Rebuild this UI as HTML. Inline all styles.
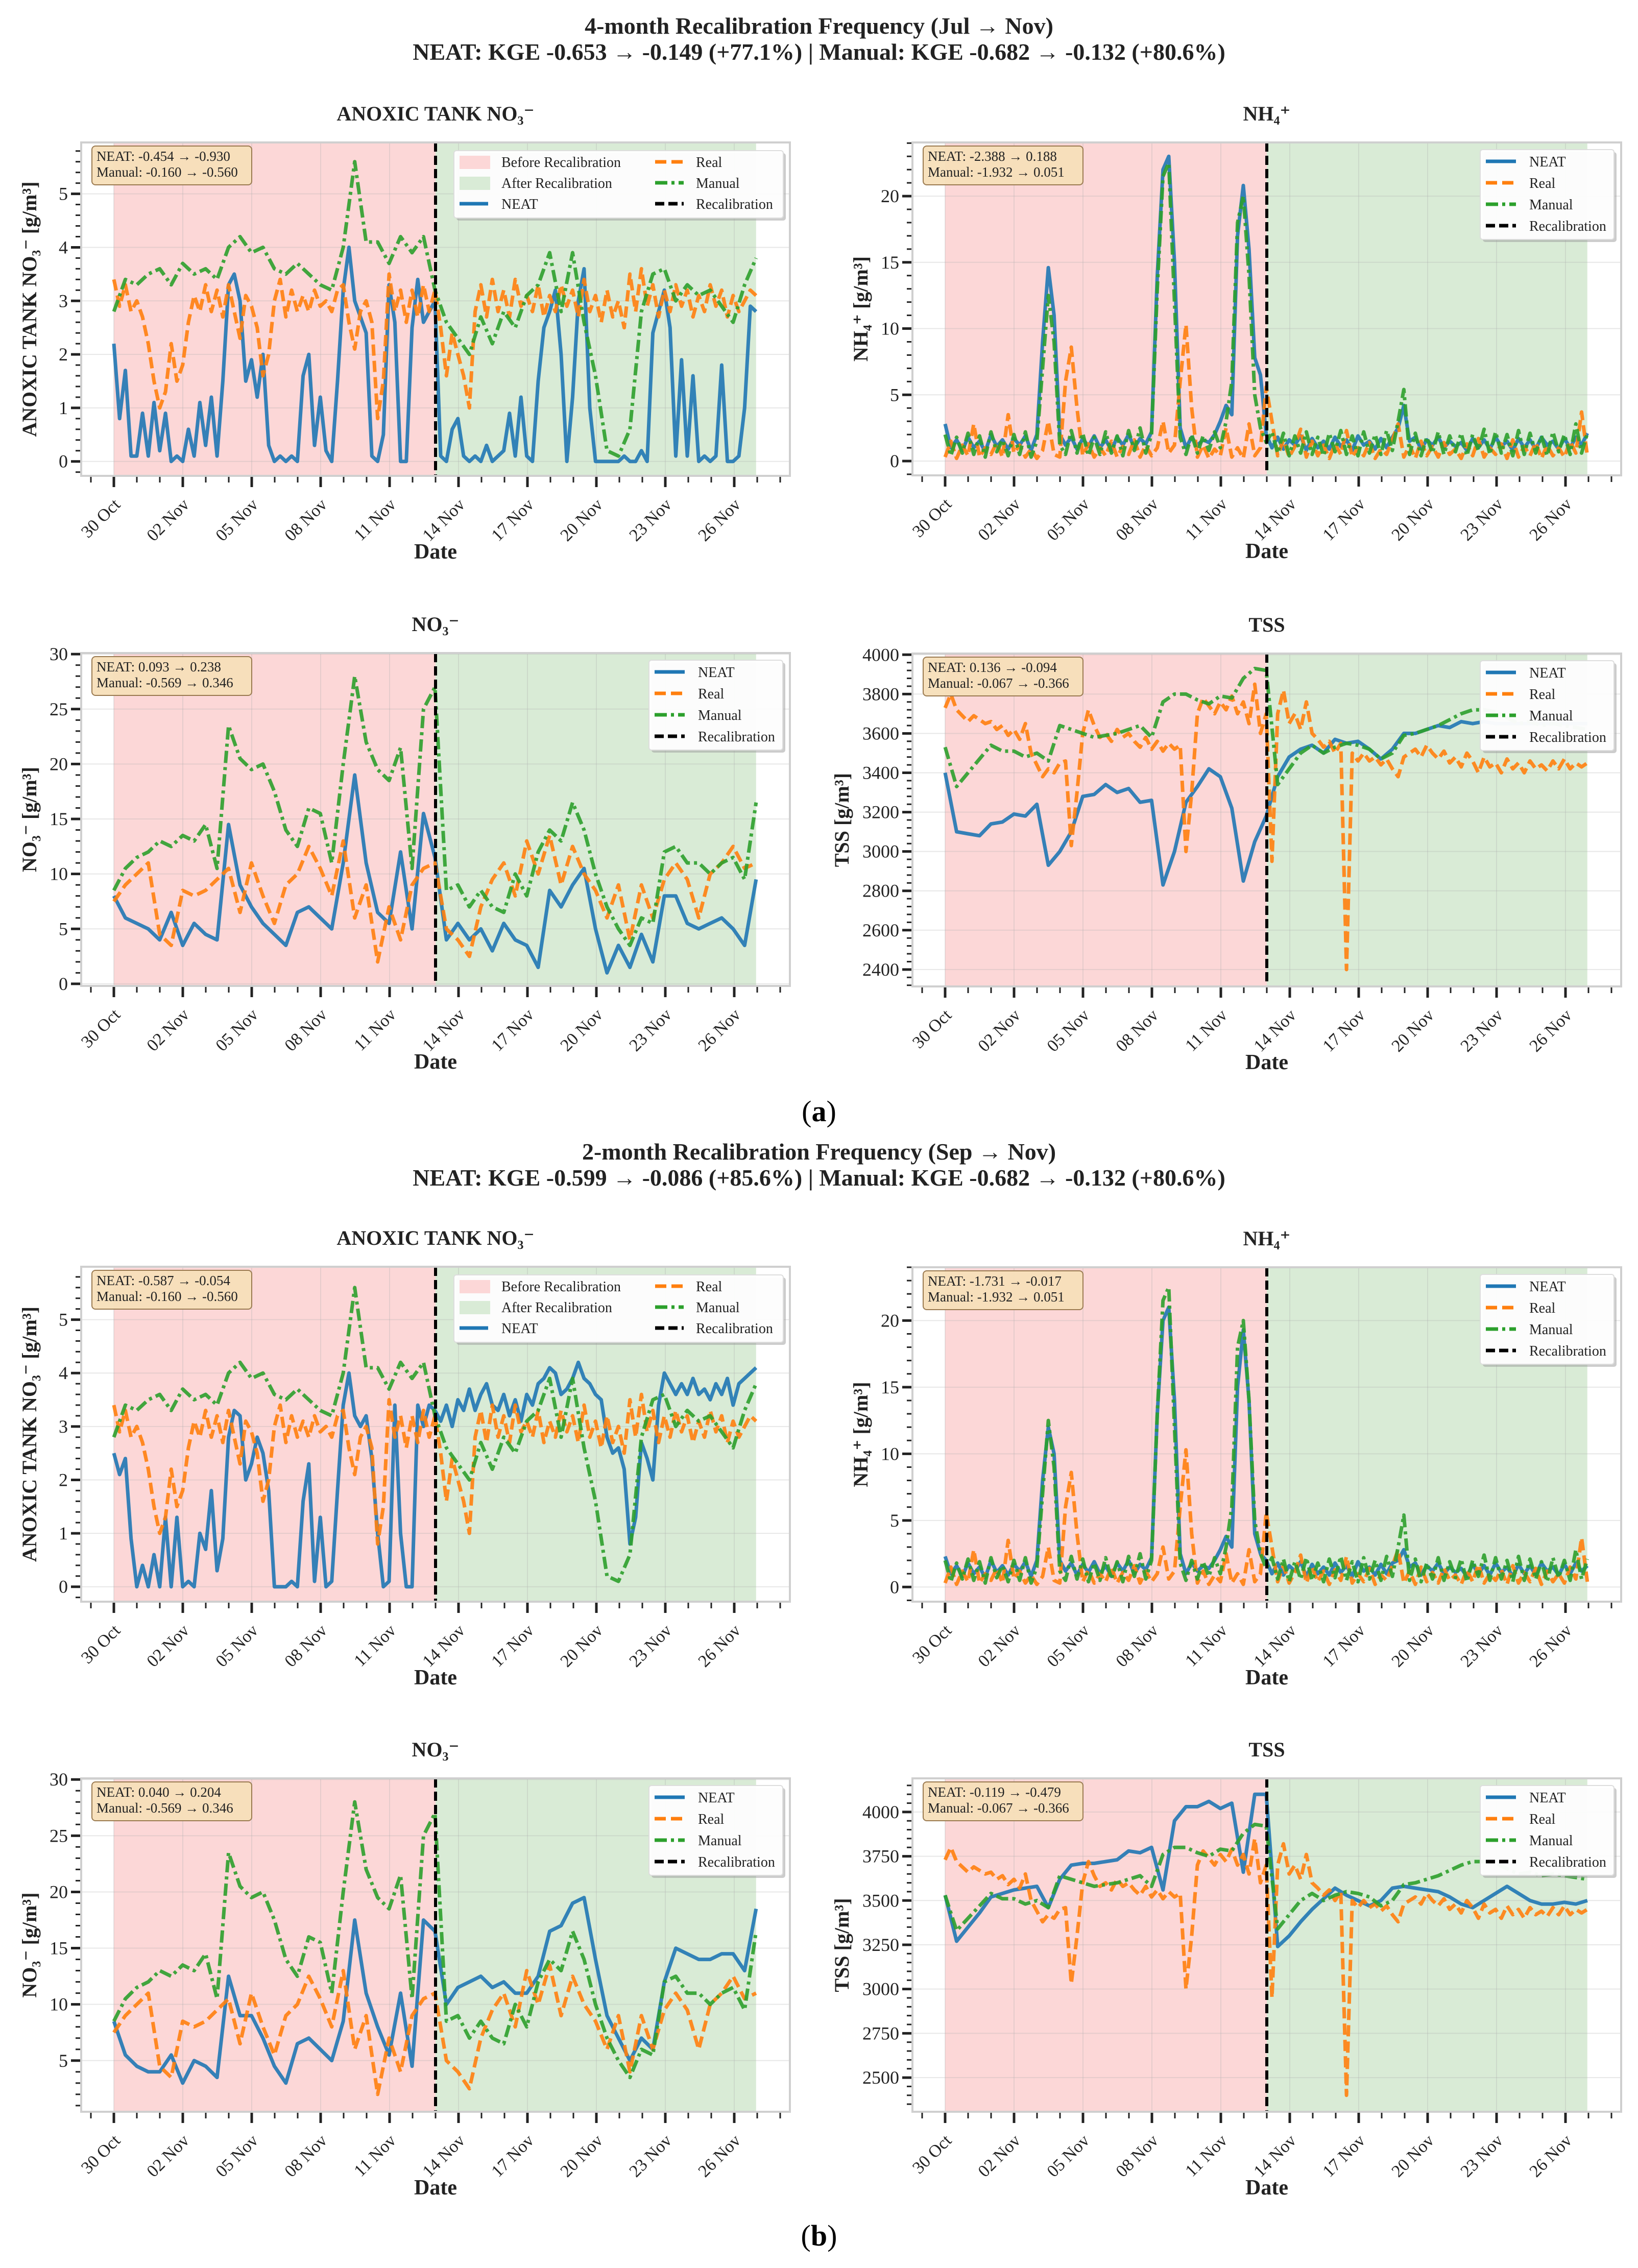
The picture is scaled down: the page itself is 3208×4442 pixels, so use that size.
<!DOCTYPE html>
<html><head><meta charset="utf-8"><title>Recalibration Frequency</title>
<style>
html,body{margin:0;padding:0;background:#fff;}
svg{display:block;font-family:"Liberation Serif","DejaVu Serif",serif;}
</style></head>
<body>
<svg id="fig" width="3208" height="4442" viewBox="0 0 3208 4442" xmlns="http://www.w3.org/2000/svg">
<rect x="0" y="0" width="3208" height="4442" fill="#fff"/>
<text x="1604" y="66" text-anchor="middle" font-size="46" font-weight="bold" fill="#222">4-month Recalibration Frequency (Jul → Nov)</text>
<text x="1604" y="117" text-anchor="middle" font-size="46" font-weight="bold" fill="#222">NEAT: KGE -0.653 → -0.149 (+77.1%)  |  Manual: KGE -0.682 → -0.132 (+80.6%)</text>
<text x="1604" y="2196" text-anchor="middle" font-size="58" fill="#000">(<tspan font-weight="bold">a</tspan>)</text>
<text x="1604" y="2271" text-anchor="middle" font-size="46" font-weight="bold" fill="#222">2-month Recalibration Frequency (Sep → Nov)</text>
<text x="1604" y="2322" text-anchor="middle" font-size="46" font-weight="bold" fill="#222">NEAT: KGE -0.599 → -0.086 (+85.6%)  |  Manual: KGE -0.682 → -0.132 (+80.6%)</text>
<text x="1604" y="4398" text-anchor="middle" font-size="58" fill="#000">(<tspan font-weight="bold">b</tspan>)</text>
</svg>
<script>
// ---------- DATA (time axis: days since 30 Oct, evenly spanning 0..27.95) ----------
const xTickLabels = ["30 Oct","02 Nov","05 Nov","08 Nov","11 Nov","14 Nov","17 Nov","20 Nov","23 Nov","26 Nov"];
const xTickDays = [0,3,6,9,12,15,18,21,24,27];
const recalDay = 14;
const endDay = 27.95;

const realAnoxic = [3.4,2.9,3.3,2.8,3.0,2.7,2.2,1.5,1.0,1.3,2.2,1.5,1.8,2.6,3.1,2.8,3.3,2.8,3.2,2.7,3.3,2.8,2.3,3.1,2.9,2.5,1.6,2.0,3.0,3.4,2.7,3.2,2.8,3.1,2.8,3.2,2.9,3.0,2.8,3.2,3.3,2.6,2.1,2.8,3.0,2.6,0.8,1.5,3.5,2.8,3.2,2.6,3.2,2.7,3.3,2.8,3.2,2.5,1.6,2.4,2.0,1.6,1.0,2.8,3.3,2.7,3.4,2.8,3.2,2.7,3.4,2.9,3.1,2.8,3.3,2.7,3.1,2.8,3.3,2.9,3.2,2.7,3.4,2.8,3.1,2.6,3.2,2.7,3.0,2.5,3.5,2.8,3.6,2.9,3.3,2.7,3.2,2.8,3.3,2.9,3.2,2.7,3.1,2.8,3.3,2.9,3.2,2.7,3.1,2.8,3.0,3.2,3.1];
const manualAnoxic = [2.8,3.4,3.3,3.5,3.6,3.3,3.7,3.5,3.6,3.4,4.0,4.2,3.9,4.0,3.6,3.5,3.7,3.5,3.3,3.2,4.0,5.6,4.1,4.1,3.7,4.2,3.9,4.2,3.2,2.6,2.3,2.0,2.7,2.2,2.8,2.5,3.1,3.3,3.9,2.8,3.9,2.6,1.6,0.2,0.1,0.6,2.8,3.5,3.6,3.0,3.3,3.1,3.2,2.9,2.6,3.3,3.8];
const neatAnoxicA = [2.2,0.8,1.7,0.1,0.1,0.9,0.1,1.1,0.2,0.9,0.0,0.1,0.0,0.6,0.1,1.1,0.3,1.2,0.1,1.5,3.3,3.5,3.0,1.5,1.9,1.2,2.0,0.3,0.0,0.1,0.0,0.1,0.0,1.6,2.0,0.3,1.2,0.2,0.0,1.5,3.2,4.0,3.0,2.7,2.4,0.1,0.0,0.5,3.3,2.6,0.0,0.0,2.5,3.4,2.6,2.8,3.0,0.1,0.0,0.6,0.8,0.1,0.0,0.1,0.0,0.3,0.0,0.1,0.2,0.9,0.1,1.2,0.1,0.0,1.5,2.5,2.8,3.2,2.0,0.0,1.2,3.0,3.6,1.0,0.0,0.0,0.0,0.0,0.0,0.1,0.0,0.0,0.2,0.0,2.4,2.8,3.2,2.5,0.1,1.9,0.1,1.6,0.0,0.1,0.0,0.1,1.8,0.0,0.0,0.1,1.0,2.9,2.8];
const neatAnoxicB = [2.5,2.1,2.4,0.9,0.0,0.4,0.0,0.6,0.0,1.3,0.0,1.3,0.0,0.1,0.0,1.0,0.7,1.8,0.3,0.9,2.8,3.3,3.2,2.0,2.3,2.8,2.5,1.8,0.0,0.0,0.0,0.1,0.0,1.6,2.3,0.1,1.3,0.0,0.1,1.8,3.4,4.0,3.2,3.0,3.2,2.4,1.0,0.0,0.1,3.4,1.0,0.0,0.0,3.4,3.0,3.4,3.3,3.1,3.4,3.0,3.5,3.3,3.7,3.3,3.6,3.8,3.4,3.3,3.6,3.2,3.5,3.1,3.6,3.4,3.8,3.9,4.1,4.0,3.6,3.7,3.9,4.2,3.9,3.8,3.6,3.5,2.8,2.5,2.6,2.2,0.8,1.3,2.7,2.4,2.0,3.4,4.0,3.8,3.6,3.8,3.6,3.9,3.6,3.7,3.5,3.8,3.6,3.9,3.4,3.8,3.9,4.0,4.1];

const realNH4 = [0.3,1.5,0.2,1.2,0.4,2.8,0.3,1.0,0.5,1.4,0.3,3.5,0.6,1.2,0.3,0.9,0.2,0.8,3.0,0.5,0.3,6.0,8.6,4.0,0.4,1.3,0.3,1.0,0.4,1.5,0.3,1.1,0.5,1.6,0.3,1.2,0.4,1.0,3.0,0.6,1.2,6.0,10.3,4.0,0.3,1.2,0.2,0.9,0.4,2.5,0.3,1.0,0.2,2.8,0.4,1.0,5.6,3.0,0.4,1.6,0.3,1.1,2.4,0.3,1.5,0.4,1.2,0.2,1.3,0.5,2.3,0.3,1.0,0.4,1.4,0.2,0.9,0.5,1.6,2.8,0.3,1.2,0.2,1.5,0.4,1.1,0.3,1.4,0.5,0.9,0.2,1.3,0.4,1.7,0.3,1.0,0.5,1.3,0.2,1.6,0.3,1.1,0.4,1.4,0.2,1.2,0.4,1.0,0.3,1.5,0.6,3.7,0.4];
const manualNH4 = [2.0,0.4,1.8,0.6,2.1,0.5,1.9,0.3,2.2,0.7,1.6,0.4,2.0,0.5,2.2,0.3,1.5,7.0,12.5,9.0,1.2,0.5,2.3,0.6,2.1,0.4,1.8,0.5,2.2,0.6,1.9,0.4,2.3,0.8,2.5,0.6,2.0,13.0,21.5,22.5,12.0,1.8,0.5,2.0,0.6,1.9,0.8,2.2,1.0,3.0,6.0,18.0,20.0,14.0,5.0,2.5,1.4,2.2,0.6,2.1,0.4,1.9,0.6,2.2,0.5,1.8,0.4,2.1,0.7,2.3,0.5,1.9,0.4,2.2,0.6,2.0,0.5,2.3,0.8,3.0,5.4,0.5,2.1,0.4,1.8,0.6,2.2,0.5,1.9,0.7,2.1,0.4,2.0,0.8,2.4,0.5,2.2,0.6,2.0,0.4,2.3,0.5,2.1,0.6,1.9,0.4,2.2,0.7,2.0,0.5,2.8,0.6,2.1];
const neatNH4A = [2.8,1.0,1.6,0.8,1.8,1.0,1.5,0.7,2.0,1.1,1.6,0.9,1.7,1.2,1.9,0.8,2.0,9.0,14.6,11.0,2.0,1.2,1.8,0.9,1.7,1.1,1.9,1.0,1.6,0.8,1.8,1.2,2.0,1.0,1.7,1.3,2.2,14.0,22.0,23.0,15.0,2.5,1.0,1.8,1.2,1.6,1.4,2.0,3.0,4.2,3.5,17.0,20.8,16.0,7.8,6.5,2.0,1.0,1.8,0.9,1.6,1.2,1.9,0.8,1.7,1.0,1.5,0.9,1.8,1.1,1.6,0.8,1.9,1.2,1.5,0.9,1.7,1.0,1.8,2.5,4.2,1.5,1.8,0.9,1.6,1.2,1.8,1.0,1.5,1.1,1.4,0.8,1.7,1.0,1.6,0.9,1.8,1.1,1.5,0.8,1.7,1.0,1.6,0.9,1.8,1.2,1.5,0.9,1.7,1.0,1.8,1.2,2.1];
const neatNH4B = [2.3,1.0,1.6,0.8,1.8,1.0,1.5,0.7,2.0,1.1,1.6,0.9,1.7,1.2,1.9,0.8,2.0,8.0,12.0,10.0,2.0,1.2,1.8,0.9,1.7,1.1,1.9,1.0,1.6,0.8,1.8,1.2,2.0,1.0,1.7,1.3,2.2,13.0,20.0,21.0,14.0,2.5,1.0,1.8,1.2,1.6,1.4,2.0,2.8,3.8,3.0,15.0,19.3,14.0,4.0,2.5,2.0,1.0,1.8,0.9,1.6,1.2,1.9,0.8,1.7,1.0,1.5,0.9,1.8,1.1,1.6,0.8,1.9,1.2,1.5,0.9,1.7,1.0,1.8,2.0,2.8,1.5,1.8,0.9,1.6,1.2,1.8,1.0,1.5,1.1,1.4,0.8,1.7,1.0,1.6,0.9,1.8,1.1,1.5,0.8,1.7,1.0,1.6,0.9,1.8,1.2,1.5,0.9,1.7,1.0,1.8,1.2,1.6];

const realNO3 = [7.5,9.0,10.0,11.0,4.5,3.5,8.5,8.0,8.5,9.5,10.5,6.5,11.0,8.0,5.5,9.0,10.0,12.5,10.5,8.0,13.0,6.0,9.0,2.0,7.0,4.0,9.0,10.5,11.0,5.0,4.0,2.5,7.0,9.5,11.0,8.0,13.0,10.0,13.5,9.0,12.5,10.0,8.5,6.0,9.0,4.0,9.0,6.0,9.5,11.0,9.5,6.0,10.0,11.0,12.5,10.5,11.0];
const manualNO3 = [8.5,10.5,11.5,12.0,13.0,12.5,13.5,13.0,14.5,10.5,23.5,20.5,19.5,20.0,17.5,14.0,12.5,16.0,15.5,11.0,20.0,28.0,22.0,19.5,18.5,21.5,10.5,25.0,27.0,8.5,9.0,7.0,8.5,7.0,6.5,10.0,8.0,12.0,14.0,13.0,16.5,14.0,10.0,7.0,5.0,3.5,6.0,5.5,12.0,12.5,11.0,11.0,10.0,11.0,11.5,9.5,16.5];
const neatNO3A = [8.0,6.0,5.5,5.0,4.0,6.5,3.5,5.5,4.5,4.0,14.5,9.0,7.0,5.5,4.5,3.5,6.5,7.0,6.0,5.0,11.0,19.0,11.0,6.5,5.5,12.0,5.0,15.5,11.5,4.0,5.5,4.0,5.0,3.0,5.5,4.0,3.5,1.5,8.5,7.0,9.0,10.5,5.0,1.0,3.5,1.5,4.5,2.0,8.0,8.0,5.5,5.0,5.5,6.0,5.0,3.5,9.5];
const neatNO3B = [8.5,5.5,4.5,4.0,4.0,5.5,3.0,5.0,4.5,3.5,12.5,9.0,9.0,7.0,4.5,3.0,6.5,7.0,6.0,5.0,8.5,17.5,11.0,8.0,5.5,11.0,4.5,17.5,16.5,10.0,11.5,12.0,12.5,11.5,12.0,11.0,11.0,12.5,16.5,17.0,19.0,19.5,14.0,9.0,7.0,5.0,7.0,6.0,12.0,15.0,14.5,14.0,14.0,14.5,14.5,13.0,18.5];

const realTSS = [3730,3800,3720,3690,3660,3690,3670,3650,3660,3620,3640,3590,3620,3570,3650,3500,3440,3380,3420,3400,3450,3460,3030,3300,3600,3720,3640,3580,3600,3560,3620,3580,3600,3560,3530,3580,3520,3560,3510,3550,3520,3540,3000,3300,3700,3780,3740,3700,3760,3720,3790,3700,3760,3650,3850,3600,3700,2950,3700,3820,3650,3700,3620,3760,3600,3570,3530,3560,3500,3550,2400,3500,3460,3500,3460,3480,3440,3470,3420,3380,3480,3500,3520,3480,3540,3500,3470,3510,3450,3480,3430,3500,3460,3400,3480,3430,3450,3400,3470,3420,3450,3400,3460,3420,3440,3410,3460,3420,3470,3420,3450,3430,3450];
const manualTSS = [3530,3330,3400,3470,3540,3510,3510,3480,3500,3460,3640,3620,3600,3580,3590,3600,3620,3640,3580,3760,3800,3800,3770,3750,3790,3780,3880,3930,3920,3340,3420,3500,3540,3500,3530,3550,3540,3520,3470,3500,3590,3600,3620,3640,3670,3700,3720,3720,3710,3680,3650,3660,3640,3650,3640,3630,3620];
const neatTSSA = [3400,3100,3090,3080,3140,3150,3190,3180,3240,2930,3000,3100,3280,3290,3340,3300,3320,3250,3260,2830,3000,3250,3330,3420,3380,3220,2850,3050,3180,3380,3480,3520,3540,3500,3570,3550,3560,3520,3470,3520,3600,3600,3620,3640,3630,3660,3650,3660,3650,3650,3650,3650,3650,3650,3650,3650,3650];
const neatTSSB = [3530,3270,3350,3430,3520,3540,3560,3570,3580,3460,3620,3700,3710,3710,3720,3730,3780,3770,3800,3560,3950,4030,4030,4060,4020,4050,3660,4100,4100,3240,3300,3380,3450,3510,3570,3530,3500,3470,3500,3570,3580,3570,3560,3550,3520,3480,3460,3500,3540,3580,3540,3500,3480,3480,3490,3480,3500];

const ticksAnoxic = [0,1,2,3,4,5];
const ticksNH4 = [0,5,10,15,20];
const ticksNO3A = [0,5,10,15,20,25,30];
const ticksNO3B = [5,10,15,20,25,30];
const ticksTSSA = [2400,2600,2800,3000,3200,3400,3600,3800,4000];
const ticksTSSB = [2500,2750,3000,3250,3500,3750,4000];

const annotAnoxicA = ["NEAT: -0.454 → -0.930","Manual: -0.160 → -0.560"];
const annotNH4A = ["NEAT: -2.388 → 0.188","Manual: -1.932 → 0.051"];
const annotNO3A = ["NEAT: 0.093 → 0.238","Manual: -0.569 → 0.346"];
const annotTSSA = ["NEAT: 0.136 → -0.094","Manual: -0.067 → -0.366"];
const annotAnoxicB = ["NEAT: -0.587 → -0.054","Manual: -0.160 → -0.560"];
const annotNH4B = ["NEAT: -1.731 → -0.017","Manual: -1.932 → 0.051"];
const annotNO3B = ["NEAT: 0.040 → 0.204","Manual: -0.569 → 0.346"];
const annotTSSB = ["NEAT: -0.119 → -0.479","Manual: -0.067 → -0.366"];

// ---------- LAYOUT ----------
const NS = "http://www.w3.org/2000/svg";
const svg = document.getElementById("fig");
const COLS = [{l:159,r:1547,x0:223},{l:1787,r:3175,x0:1851}];
const PX_PER_DAY = 45;
const C_NEAT = "#1f77b4", C_REAL = "#ff7f0e", C_MAN = "#2ca02c";

const panels = [
 {key:"a-anoxic",col:0,top:279,bot:932,ymin:-0.27,ymax:5.96,ticks:ticksAnoxic,minor:0.2,neat:neatAnoxicA,real:realAnoxic,man:manualAnoxic,title:"ANOXIC TANK NO₃⁻",ylab:"ANOXIC TANK NO₃⁻ [g/m³]",ann:annotAnoxicA,wide:true},
 {key:"a-nh4",col:1,top:279,bot:931,ymin:-1.08,ymax:24.05,ticks:ticksNH4,minor:1,neat:neatNH4A,real:realNH4,man:manualNH4,title:"NH₄⁺",ylab:"NH₄⁺ [g/m³]",ann:annotNH4A,wide:false},
 {key:"a-no3",col:0,top:1279,bot:1931,ymin:-0.19,ymax:30.1,ticks:ticksNO3A,minor:1,neat:neatNO3A,real:realNO3,man:manualNO3,title:"NO₃⁻",ylab:"NO₃⁻ [g/m³]",ann:annotNO3A,wide:false},
 {key:"a-tss",col:1,top:1280,bot:1932,ymin:2314,ymax:4006,ticks:ticksTSSA,minor:40,neat:neatTSSA,real:realTSS,man:manualTSS,title:"TSS",ylab:"TSS [g/m³]",ann:annotTSSA,wide:false},
 {key:"b-anoxic",col:0,top:2481,bot:3137,ymin:-0.28,ymax:5.99,ticks:ticksAnoxic,minor:0.2,neat:neatAnoxicB,real:realAnoxic,man:manualAnoxic,title:"ANOXIC TANK NO₃⁻",ylab:"ANOXIC TANK NO₃⁻ [g/m³]",ann:annotAnoxicB,wide:true},
 {key:"b-nh4",col:1,top:2482,bot:3137,ymin:-1.1,ymax:24.0,ticks:ticksNH4,minor:1,neat:neatNH4B,real:realNH4,man:manualNH4,title:"NH₄⁺",ylab:"NH₄⁺ [g/m³]",ann:annotNH4B,wide:false},
 {key:"b-no3",col:0,top:3483,bot:4136,ymin:0.45,ymax:30.1,ticks:ticksNO3B,minor:1,neat:neatNO3B,real:realNO3,man:manualNO3,title:"NO₃⁻",ylab:"NO₃⁻ [g/m³]",ann:annotNO3B,wide:false},
 {key:"b-tss",col:1,top:3483,bot:4136,ymin:2307,ymax:4190,ticks:ticksTSSB,minor:50,neat:neatTSSB,real:realTSS,man:manualTSS,title:"TSS",ylab:"TSS [g/m³]",ann:annotTSSB,wide:false}
];

function mk(tag, attrs, parent){
  const e = document.createElementNS(NS, tag);
  for (const k in attrs) e.setAttribute(k, attrs[k]);
  (parent||svg).appendChild(e);
  return e;
}

panels.forEach(function(p, pi){
  const c = COLS[p.col];
  const xs = function(t){ return c.x0 + t*PX_PER_DAY; };
  const ys = function(v){ return p.bot - (v - p.ymin)/(p.ymax - p.ymin)*(p.bot - p.top); };
  const g = mk("g", {});
  
  
  const cid = "clip" + pi;
  const cp = mk("clipPath", {id:cid}, g);
  mk("rect", {x:c.l, y:p.top, width:c.r-c.l, height:p.bot-p.top}, cp);

  // title
  const tt = mk("text", {x:(c.l+c.r)/2, y:p.top-43, "text-anchor":"middle", "font-size":40, "font-weight":"bold", fill:"#222"}, g);
  tt.textContent = p.title;
  
  

  // shaded regions
  const pre = mk("rect", {x:xs(0), y:p.top, width:xs(recalDay)-xs(0), height:p.bot-p.top, fill:"#fcd7d7"}, g);
  
  
  const post = mk("rect", {x:xs(recalDay), y:p.top, width:xs(endDay)-xs(recalDay), height:p.bot-p.top, fill:"#d9ebd6"}, g);
  
  

  // grid
  xTickDays.forEach(function(d){
    const gl = mk("line", {x1:xs(d), x2:xs(d), y1:p.top, y2:p.bot, stroke:"#b0b0b0", "stroke-opacity":0.3, "stroke-width":2}, g);
    
    
  });
  p.ticks.forEach(function(v){
    const gl = mk("line", {x1:c.l, x2:c.r, y1:ys(v), y2:ys(v), stroke:"#b0b0b0", "stroke-opacity":0.3, "stroke-width":2}, g);
    
    
  });

  // series
  function series(arr, color, dash, name){
    const n = arr.length;
    let d = "";
    arr.forEach(function(v, i){
      const t = i*endDay/(n-1);
      d += (i ? "L" : "M") + xs(t).toFixed(1) + "," + ys(v).toFixed(1);
    });
    const a = {d:d, fill:"none", stroke:color, "stroke-width":7, "stroke-opacity":0.9, "stroke-linejoin":"round", "clip-path":"url(#"+cid+")"};
    if (dash) a["stroke-dasharray"] = dash;
    const path = mk("path", a, g);
    
    
  }
  series(p.neat, C_NEAT, null, "neat-line");
  series(p.real, C_REAL, "22,10", "real-line");
  series(p.man, C_MAN, "24,8,6,8", "manual-line");

  // recalibration line
  const rl = mk("line", {x1:xs(recalDay), x2:xs(recalDay), y1:p.top, y2:p.bot, stroke:"#000", "stroke-width":6, "stroke-dasharray":"18,8"}, g);
  
  

  // frame
  const fr = mk("rect", {x:c.l, y:p.top, width:c.r-c.l, height:p.bot-p.top, fill:"none", stroke:"#cfcfcf", "stroke-width":4}, g);
  
  

  // x ticks
  for (let d = -1; d <= 29; d++){
    const major = (xTickDays.indexOf(d) >= 0);
    const tk = mk("line", {x1:xs(d), x2:xs(d), y1:p.bot+2, y2:p.bot+(major?22:13), stroke:"#222", "stroke-width":major?5:3}, g);
    
    
  }
  xTickLabels.forEach(function(lab, i){
    const x = xs(xTickDays[i]) - 2, y = p.bot + 42;
    const tl = mk("text", {x:x, y:y, "text-anchor":"end", "font-size":34, fill:"#222", transform:"rotate(-45 "+x+" "+y+")", "dominant-baseline":"hanging"}, g);
    tl.textContent = lab;
    
    
  });
  const xl = mk("text", {x:xs(recalDay), y:p.bot+162, "text-anchor":"middle", "font-size":42, "font-weight":"bold", fill:"#222"}, g);
  xl.textContent = "Date";
  
  

  // y ticks
  const mstart = Math.ceil(p.ymin/p.minor), mend = Math.floor(p.ymax/p.minor);
  for (let k = mstart; k <= mend; k++){
    const v = k*p.minor;
    const mt = mk("line", {x1:c.l-2, x2:c.l-11, y1:ys(v), y2:ys(v), stroke:"#222", "stroke-width":3}, g);
    
    
  }
  p.ticks.forEach(function(v){
    const tk = mk("line", {x1:c.l-2, x2:c.l-20, y1:ys(v), y2:ys(v), stroke:"#222", "stroke-width":5}, g);
    
    
    const tl = mk("text", {x:c.l-26, y:ys(v)+12, "text-anchor":"end", "font-size":36, fill:"#222"}, g);
    tl.textContent = String(v);
    
    
  });
  const ylx = c.l - (p.col===1 && p.ymax>1000 ? 125 : 88), yly = (p.top+p.bot)/2;
  const yl = mk("text", {x:ylx, y:yly, "text-anchor":"middle", "font-size":40, "font-weight":"bold", fill:"#222", transform:"rotate(-90 "+ylx+" "+yly+")"}, g);
  yl.textContent = p.ylab;
  
  

  // annotation box
  const ab = mk("rect", {x:c.l+21, y:p.top+7, width:313, height:76, rx:7, fill:"#f7dfb9", stroke:"#9a7a50", "stroke-width":2, "fill-opacity":0.95}, g);
  
  
  p.ann.forEach(function(s, i){
    const at = mk("text", {x:c.l+30, y:p.top+36+i*31, "font-size":27, fill:"#222"}, g);
    at.textContent = s;
    
    
  });

  // legend
  const lg = mk("g", {}, g);
  
  
  if (p.wide){
    const bx = c.r - 658, by = p.top + 16;
    mk("rect", {x:bx+5, y:by+5, width:645, height:132, rx:5, fill:"#999", "fill-opacity":0.5}, lg);
    mk("rect", {x:bx, y:by, width:645, height:132, rx:5, fill:"#fff", "fill-opacity":0.95, stroke:"#ddd", "stroke-width":2}, lg);
    const rows = [by+22, by+63, by+104];
    const items = [
      {kind:"patch", color:"#fcd7d7", label:"Before Recalibration", col:0, row:0},
      {kind:"patch", color:"#d9ebd6", label:"After Recalibration", col:0, row:1},
      {kind:"line", color:C_NEAT, dash:null, label:"NEAT", col:0, row:2},
      {kind:"line", color:C_REAL, dash:"22,10", label:"Real", col:1, row:0},
      {kind:"line", color:C_MAN, dash:"24,8,6,8", label:"Manual", col:1, row:1},
      {kind:"line", color:"#000", dash:"18,8", label:"Recalibration", col:1, row:2}
    ];
    items.forEach(function(it){
      const hx = bx + (it.col ? 394 : 11), ry = rows[it.row];
      const e = it.kind === "patch"
        ? mk("rect", {x:hx, y:ry-12, width:60, height:26, fill:it.color}, lg)
        : mk("line", {x1:hx, x2:hx+56, y1:ry, y2:ry, stroke:it.color, "stroke-width":7, "stroke-dasharray":it.dash||"none"}, lg);
      
      
      const tx = mk("text", {x:hx + (it.col ? 80 : 82), y:ry+10, "font-size":28, fill:"#222"}, lg);
      tx.textContent = it.label;
      
      
    });
  } else {
    const bx = c.r - 276, by = p.top + 14;
    mk("rect", {x:bx+5, y:by+5, width:262, height:176, rx:5, fill:"#999", "fill-opacity":0.5}, lg);
    mk("rect", {x:bx, y:by, width:262, height:176, rx:5, fill:"#fff", "fill-opacity":0.95, stroke:"#ddd", "stroke-width":2}, lg);
    const items = [
      {color:C_NEAT, dash:null, label:"NEAT"},
      {color:C_REAL, dash:"22,10", label:"Real"},
      {color:C_MAN, dash:"24,8,6,8", label:"Manual"},
      {color:"#000", dash:"18,8", label:"Recalibration"}
    ];
    items.forEach(function(it, i){
      const ry = by + 23 + i*42;
      const ln = mk("line", {x1:bx+11, x2:bx+70, y1:ry, y2:ry, stroke:it.color, "stroke-width":7, "stroke-dasharray":it.dash||"none"}, lg);
      
      
      const tx = mk("text", {x:bx+96, y:ry+10, "font-size":28, fill:"#222"}, lg);
      tx.textContent = it.label;
      
      
    });
  }
});
</script>
</body></html>
